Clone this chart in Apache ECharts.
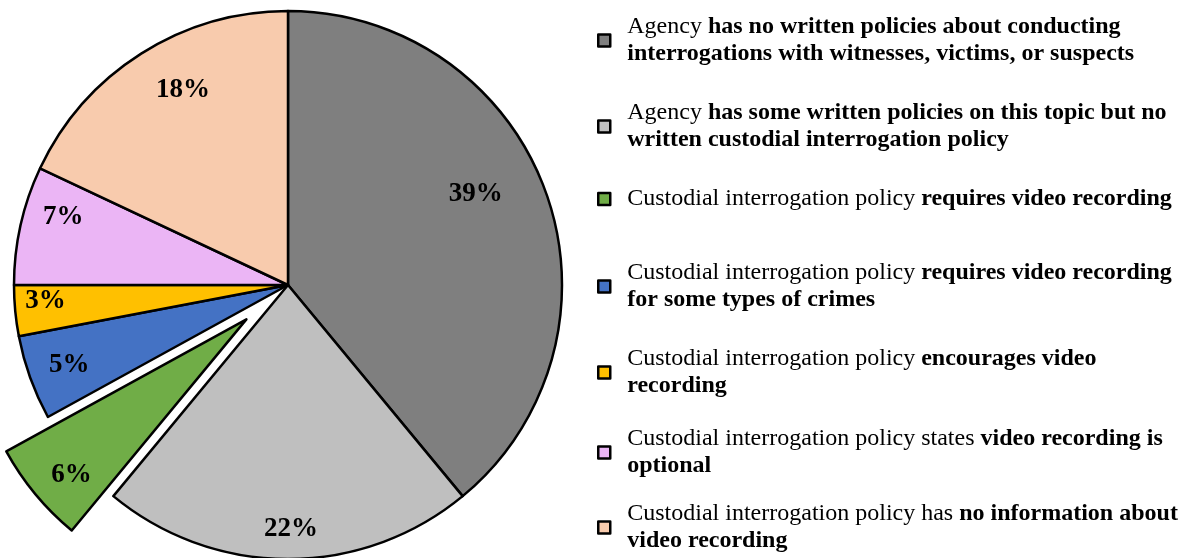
<!DOCTYPE html>
<html>
<head>
<meta charset="utf-8">
<script src="https://cdn.jsdelivr.net/npm/echarts@6/dist/echarts.min.js"></script>
<style>html,body{margin:0;padding:0;background:#fff;}#c{width:1198px;height:558px;}</style>
</head>
<body>
<div id="c"></div>
<script>
// ---- data ----
var categories = [
  'Agency has no written policies about conducting interrogations with witnesses, victims, or suspects',
  'Agency has some written policies on this topic but no written custodial interrogation policy',
  'Custodial interrogation policy requires video recording',
  'Custodial interrogation policy requires video recording for some types of crimes',
  'Custodial interrogation policy encourages video recording',
  'Custodial interrogation policy states video recording is optional',
  'Custodial interrogation policy has no information about video recording'
];
var values = [39, 22, 6, 5, 3, 7, 18];
var legendText = [
  '{r|Agency }{b|has no written policies about conducting}\n{b|interrogations with witnesses, victims, or suspects}',
  '{r|Agency }{b|has some written policies on this topic but no}\n{b|written custodial interrogation policy}',
  '{r|Custodial interrogation policy }{b|requires video recording}',
  '{r|Custodial interrogation policy }{b|requires video recording}\n{b|for some types of crimes}',
  '{r|Custodial interrogation policy }{b|encourages video}\n{b|recording}',
  '{r|Custodial interrogation policy states }{b|video recording is}\n{b|optional}',
  '{r|Custodial interrogation policy has }{b|no information about}\n{b|video recording}'
];
var explodedIndex = 2;
// ---- style / layout ----
var colors = ['#7f7f7f', '#bfbfbf', '#70ad47', '#4472c4', '#ffc000', '#ebb5f5', '#f8cbad'];
var legendTops = [15, 101, 187, 261, 347, 427, 502];
var labelNudge = [[56, -44], [3, 104], [-67, 66], [-87, 33], [-103, 3], [-88, -37], [-30, -77]];

var serif = '"Liberation Serif", "Times New Roman", serif';
var rich = {
  r: { fontFamily: serif, fontSize: 24, color: '#000', lineHeight: 27 },
  b: { fontFamily: serif, fontSize: 24, fontWeight: 'bold', color: '#000', lineHeight: 27 }
};

var legends = categories.map(function (name, i) {
  return {
    data: [name],
    left: 597,
    top: legendTops[i],
    orient: 'vertical',
    icon: 'rect',
    itemWidth: 12,
    itemHeight: 12,
    padding: 0,
    selectedMode: false,
    itemStyle: { borderColor: '#000', borderWidth: 2.5 },
    textStyle: { padding: [0, 0, 0, 12], rich: rich },
    formatter: function () { return legendText[i]; }
  };
});

var pieData = categories.map(function (name, i) {
  return {
    name: name,
    value: values[i],
    selected: i === explodedIndex,
    itemStyle: { color: colors[i] }
  };
});

var chart = echarts.init(document.getElementById('c'), null, { renderer: 'canvas' });
chart.setOption({
  animation: false,
  backgroundColor: '#fff',
  legend: legends,
  series: [{
    type: 'pie',
    center: [288, 285],
    radius: [0, 274],
    startAngle: 90,
    clockwise: true,
    selectedMode: 'single',
    selectedOffset: 54,
    avoidLabelOverlap: false,
    itemStyle: { borderColor: '#000', borderWidth: 2.5 },
    select: { itemStyle: { borderColor: '#000', borderWidth: 2.5 }, label: { color: '#000' } },
    emphasis: { disabled: true },
    label: {
      show: true,
      position: 'inside',
      formatter: '{c}%',
      fontFamily: serif,
      fontWeight: 'bold',
      fontSize: 27,
      color: '#000'
    },
    labelLine: { show: false },
    labelLayout: function (p) {
      var n = labelNudge[p.dataIndex];
      return { dx: n[0], dy: n[1] };
    },
    data: pieData
  }]
});
</script>
</body>
</html>
